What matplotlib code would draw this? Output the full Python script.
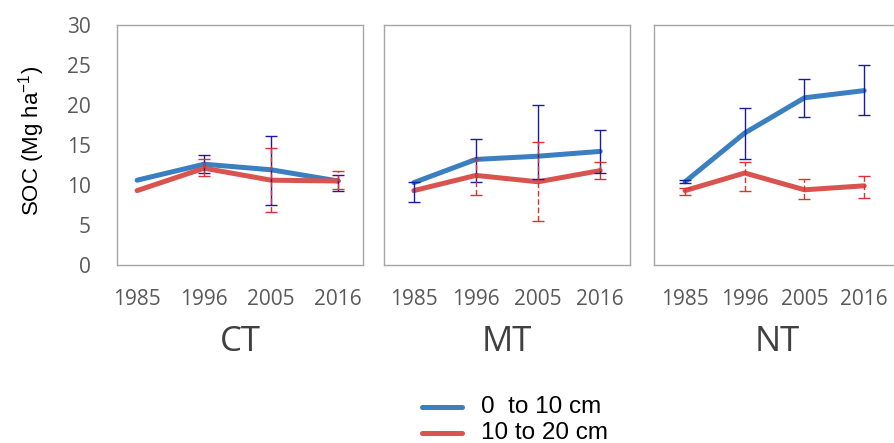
import numpy as np
import matplotlib
matplotlib.use("Agg")
import matplotlib.pyplot as plt

years = ["1985", "1996", "2005", "2016"]
systems = ["CT", "MT", "NT"]
depths = ["0  to 10 cm", "10 to 20 cm"]

# mean SOC (Mg ha-1), one row per system
soc_top = [[10.6, 12.6, 11.9, 10.5],
           [10.3, 13.2, 13.6, 14.2],
           [10.4, 16.5, 20.9, 21.8]]
soc_sub = [[9.3, 12.1, 10.6, 10.5],
           [9.3, 11.2, 10.4, 11.8],
           [9.3, 11.5, 9.4, 9.9]]

# error bar ends (low, high); None = no bar shown
top_lo = [[None, 11.5, 7.5, 9.3],
          [7.9, 10.4, 10.8, 11.5],
          [10.2, 13.2, 18.5, 18.7]]
top_hi = [[None, 13.7, 16.1, 11.3],
          [10.4, 15.7, 20.0, 16.9],
          [10.6, 19.6, 23.2, 25.0]]
sub_lo = [[None, 11.1, 6.6, 9.5],
          [None, 8.8, 5.5, 10.7],
          [8.7, 9.3, 8.2, 8.4]]
sub_hi = [[None, 13.2, 14.6, 11.7],
          [None, 13.3, 15.4, 12.9],
          [9.6, 12.9, 10.8, 11.1]]

BLUE = "#3a7fc0"
RED = "#d9534f"
GREY = "#595959"

fig = plt.figure(figsize=(8.94, 4.43), dpi=100)

# left edge (px), x-limits for each panel
panels = [(117, (-0.3, 3.37)), (384, (-0.48, 3.48)), (654, (-0.52, 3.6))]


def draw_err(ax, x, mean, lo, hi, color, dashed):
    idx = [i for i in range(len(x)) if lo[i] is not None]
    if not idx:
        return
    m = np.array([mean[i] for i in idx])
    l = np.array([lo[i] for i in idx])
    h = np.array([hi[i] for i in idx])
    eb = ax.errorbar(np.array(x)[idx], m, yerr=[m - l, h - m], fmt="none",
                     ecolor=color, elinewidth=1.0, capsize=4, capthick=1.0, zorder=4)
    if dashed:
        eb[2][0].set_linestyle((0, (4, 2)))


for k, sys_name in enumerate(systems):
    left, xl = panels[k]
    ax = fig.add_axes([left / 894, 1 - 265 / 443, 246 / 894, 240 / 443])
    x = np.arange(len(years))
    ax.plot(x, soc_top[k], color=BLUE, lw=3.6, solid_capstyle="round", zorder=2)
    ax.plot(x, soc_sub[k], color=RED, lw=3.6, solid_capstyle="round", zorder=2)
    draw_err(ax, x, soc_top[k], top_lo[k], top_hi[k], "#1a1aa6", False)
    draw_err(ax, x, soc_sub[k], sub_lo[k], sub_hi[k], "#e03030", True)

    ax.set_xlim(*xl)
    ax.set_ylim(0, 30)
    ax.set_xticks(x)
    ax.set_xticklabels(years, fontsize=15, color=GREY, family="Open Sans")
    ax.tick_params(length=0, pad=17)
    for s in ax.spines.values():
        s.set_color("#a6a6a6")
        s.set_linewidth(1.0)
    if k == 2:
        ax.spines["right"].set_visible(False)
    if k == 0:
        ax.set_yticks(range(0, 31, 5))
        ax.set_yticklabels([str(v) for v in range(0, 31, 5)], fontsize=15,
                           color=GREY, family="Open Sans")
        ax.tick_params(axis="y", pad=19)
    else:
        ax.set_yticks([])
    ax.text(0.5, -0.32, sys_name, transform=ax.transAxes, ha="center", va="center",
            fontsize=25, color="#404040", family="Open Sans")

fig.text(32 / 894, 1 - 141 / 443, "SOC (Mg ha$^{\\mathregular{-1}}$)", rotation=90,
         ha="center", va="center", fontsize=16, family="Liberation Sans")

# legend
for j, (lab, col) in enumerate(zip(depths, [BLUE, RED])):
    yy = 1 - (407 + 26 * j) / 443
    fig.add_artist(plt.Line2D([422 / 894, 462 / 894], [yy, yy], color=col, lw=3.6,
                              solid_capstyle="round", transform=fig.transFigure))
    fig.text(481 / 894, yy, lab, ha="left", va="center", fontsize=17.5,
             family="Liberation Sans")

fig.savefig("out.png", dpi=100)
